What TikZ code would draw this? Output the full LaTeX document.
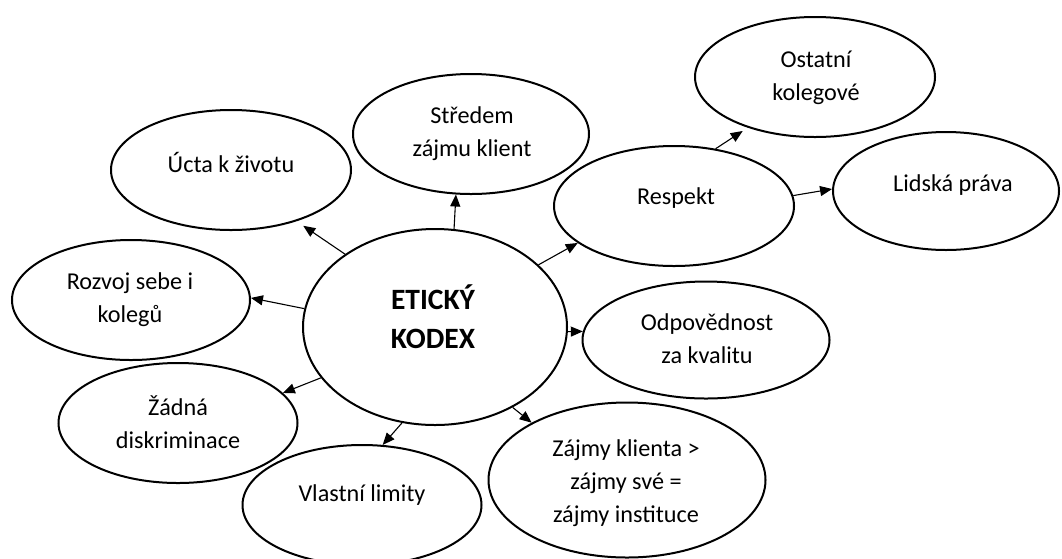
\documentclass[tikz,border=0pt]{standalone}
\usepackage{fontspec}
\setmainfont{Carlito}
\usetikzlibrary{shapes.geometric,arrows.meta}
\begin{document}
\begin{tikzpicture}[x=1pt,y=-1pt,
  bubble/.style={draw,ellipse,line width=2pt,fill=white,inner sep=0pt,
                 minimum width=240pt,minimum height=120pt},
  txt/.style={align=center,inner sep=0pt,font=\fontsize{24.2}{33}\selectfont},
  link/.style={line width=1.1pt,-{Triangle[length=12pt,width=10pt]}}]
\useasboundingbox (0,0) rectangle (1062,558);
\clip (0,0) rectangle (1062,558);

% bubbles
\node[bubble,minimum width=264pt,minimum height=196pt] (kodex) at (435,327) {};
\node[bubble] (ucta) at (231,170) {};
\node[bubble,minimum width=236pt] (stred) at (471,134) {};
\node[bubble] (resp) at (674,206) {};
\node[bubble] (ostat) at (815,77) {};
\node[bubble,minimum width=226pt,minimum height=118pt] (lidska) at (946,191) {};
\node[bubble,minimum width=238pt] (rozvoj) at (131,300) {};
\node[bubble,minimum width=247pt,minimum height=117pt] (odp) at (706,340) {};
\node[bubble,minimum width=239pt] (zadna) at (178,423) {};
\node[bubble,minimum width=239pt] (vlast) at (362,505) {};
\node[bubble,minimum width=277pt,minimum height=155pt] (zajmy) at (627,480) {};

% labels
\node[txt,font=\bfseries\fontsize{29.5}{39}\selectfont] (kodex-t) at (433,317) {ETICKÝ\\KODEX};
\node[txt] (ucta-t) at (231,162) {Úcta k životu};
\node[txt] (stred-t) at (472,134) {Středem\\zájmu klient};
\node[txt] (resp-t) at (676,198) {Respekt};
\node[txt] (ostat-t) at (816,78) {Ostatní\\kolegové};
\node[txt] (lidska-t) at (953,185) {Lidská práva};
\node[txt] (rozvoj-t) at (130,300) {Rozvoj sebe i\\kolegů};
\node[txt] (odp-t) at (707,339) {Odpovědnost\\za kvalitu};
\node[txt] (zadna-t) at (178,422) {Žádná\\diskriminace};
\node[txt] (vlast-t) at (362,495) {Vlastní limity};
\node[txt] (zajmy-t) at (626,483) {Zájmy klienta >\\zájmy své =\\zájmy instituce};

% connectors
\draw[link,shorten >=8pt] (kodex.141) -- (ucta.-38);
\draw[link] (kodex.79) -- (stred.256);
\draw[link] (kodex.31.6) -- (resp.201);
\draw[link,shorten >=6pt] (resp.54) -- (ostat.217);
\draw[link] (resp.5.7) -- (lidska.179);
\draw[link] (kodex.172) -- (rozvoj.1);
\draw[link] (kodex.-2.6) -- (odp.176);
\draw[link] (kodex.204) -- (zadna.16);
\draw[link] (kodex.251) -- (vlast.71);
\draw[link] (kodex.-46) -- (zajmy.149);
\end{tikzpicture}
\end{document}
